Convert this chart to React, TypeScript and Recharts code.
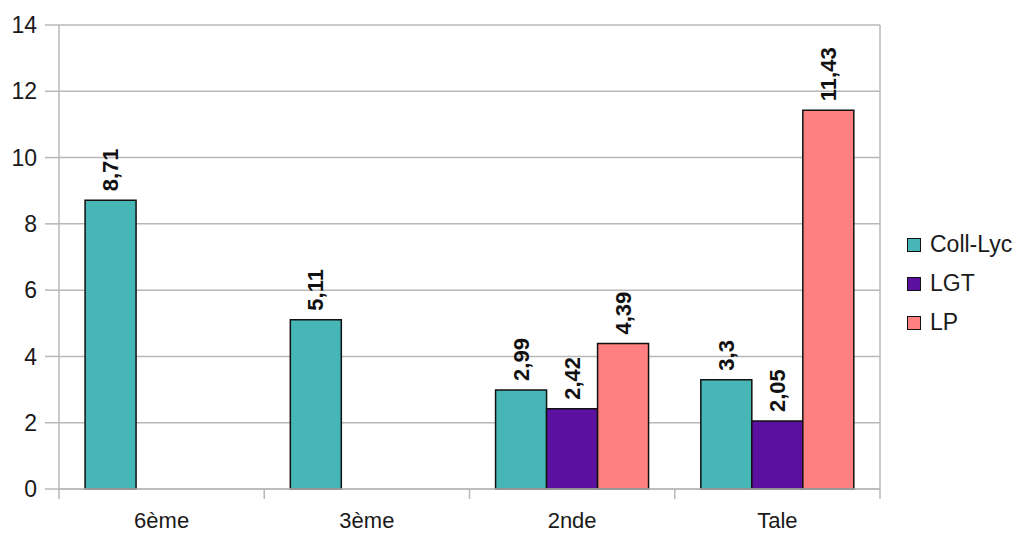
import React from 'react';
import { BarChart, Bar, XAxis, YAxis, CartesianGrid, LabelList } from 'recharts';

const categories = ['6ème', '3ème', '2nde', 'Tale'];
const collLyc = [8.71, 5.11, 2.99, 3.3];
const lgt: (number | null)[] = [null, null, 2.42, 2.05];
const lp: (number | null)[] = [null, null, 4.39, 11.43];
const yTicks = [0, 2, 4, 6, 8, 10, 12, 14];

const seriesNames = ['Coll-Lyc', 'LGT', 'LP'];
const seriesKeys = ['collLyc', 'lgt', 'lp'];
const seriesColors = ['#46b7b6', '#5b10a0', '#ff8080'];

const data = categories.map((c, i) => ({
  cat: c,
  collLyc: collLyc[i],
  lgt: lgt[i],
  lp: lp[i],
}));

const FONT = '"Liberation Sans", Arial, sans-serif';
const GRID = '#b8b8b8';

const BarLabel = (props: any) => {
  const { x, y, width, value } = props;
  if (value === null || value === undefined) return null;
  const cx = Number(x) + Number(width) / 2;
  const ty = Number(y) - 9;
  return (
    <text
      x={cx}
      y={ty}
      transform={`rotate(-90, ${cx}, ${ty})`}
      textAnchor="start"
      dominantBaseline="central"
      fontFamily={FONT}
      fontWeight="bold"
      fontSize={22}
      fill="#111"
    >
      {String(value).replace('.', ',')}
    </text>
  );
};

const XTick = (props: any) => {
  const { x, y, payload, index, width, visibleTicksCount } = props;
  const n = visibleTicksCount || categories.length;
  const half = width ? width / n / 2 : 102.6;
  const isLast = index === n - 1;
  return (
    <g>
      <line x1={x - half} x2={x - half} y1={y - 10} y2={y} stroke={GRID} strokeWidth={1.5} />
      {isLast && <line x1={x + half} x2={x + half} y1={y - 10} y2={y} stroke={GRID} strokeWidth={1.5} />}
      <text x={x} y={y + 29} textAnchor="middle" fontFamily={FONT} fontSize={22} fill="#1a1a1a">
        {payload.value}
      </text>
    </g>
  );
};

const LegendBox = () => (
  <div
    style={{
      position: 'absolute',
      left: 907,
      top: 225,
      fontFamily: FONT,
      fontSize: 23,
      color: '#1a1a1a',
    }}
  >
    {seriesNames.map((n, i) => (
      <div key={n} style={{ display: 'flex', alignItems: 'center', height: 39 }}>
        <div
          style={{
            width: 12,
            height: 12,
            background: seriesColors[i],
            border: '1.5px solid #111',
            marginRight: 9,
          }}
        />
        <span>{n}</span>
      </div>
    ))}
  </div>
);

export default function App() {
  return (
    <div style={{ position: 'absolute', left: 0, top: 0, width: 1023, height: 534, background: '#fff' }}>
      <BarChart
        width={1023}
        height={534}
        data={data}
        margin={{ top: 25, right: 143, left: 0, bottom: 0 }}
        barGap={0}
        barCategoryGap="12.7%"
      >
        <CartesianGrid
          stroke={GRID}
          strokeWidth={1.5}
          horizontal={true}
          vertical={true}
          verticalCoordinatesGenerator={({ offset }: any) => [offset.left + offset.width]}
        />
        <XAxis
          dataKey="cat"
          height={45}
          tickLine={false}
          tickSize={10}
          tickMargin={0}
          axisLine={{ stroke: GRID, strokeWidth: 1.5 }}
          tick={<XTick />}
          interval={0}
        />
        <YAxis
          width={59}
          domain={[0, 14]}
          ticks={yTicks}
          tickSize={14}
          tickMargin={8}
          axisLine={{ stroke: GRID, strokeWidth: 1.5 }}
          tickLine={{ stroke: GRID, strokeWidth: 1.5 }}
          tick={{ fontFamily: FONT, fontSize: 23, fill: '#1a1a1a' }}
          allowDecimals={false}
        />
        {seriesKeys.map((k, i) => (
          <Bar
            key={k}
            dataKey={k}
            name={seriesNames[i]}
            fill={seriesColors[i]}
            stroke="#111"
            strokeWidth={1.5}
            isAnimationActive={false}
          >
            <LabelList dataKey={k} content={<BarLabel />} />
          </Bar>
        ))}
      </BarChart>
      <LegendBox />
    </div>
  );
}
